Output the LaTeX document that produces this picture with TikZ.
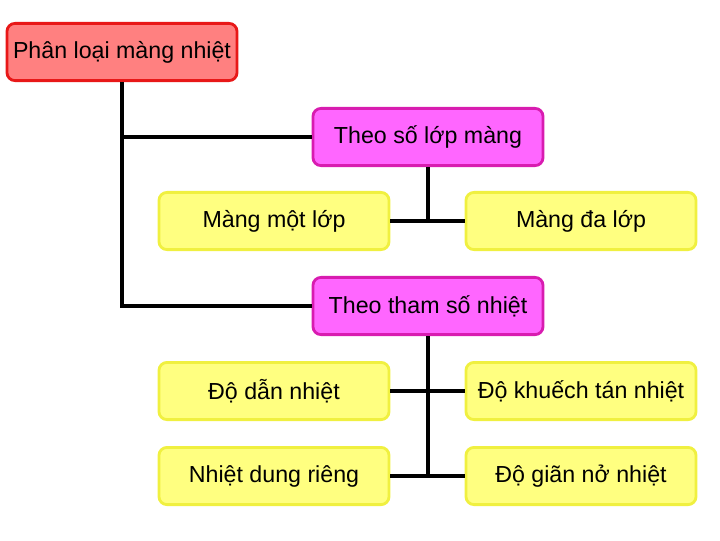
\documentclass[tikz,border=0pt]{standalone}
\usepackage{fontspec}
\setmainfont{Liberation Sans}
\definecolor{rootfill}{HTML}{FF8080}
\definecolor{rootline}{HTML}{E81818}
\definecolor{pinkfill}{HTML}{FF66FF}
\definecolor{pinkline}{HTML}{D81CB0}
\definecolor{yellowfill}{HTML}{FFFF80}
\definecolor{yellowline}{HTML}{F0F040}
\tikzset{
  box/.style={rectangle, rounded corners=0.2cm, line width=0.07cm, minimum width=5.75cm, minimum height=1.43cm, inner sep=0pt, font=\fontsize{16.5}{19}\selectfont},
  rootbox/.style={box, draw=rootline, fill=rootfill},
  groupbox/.style={box, draw=pinkline, fill=pinkfill},
  leafbox/.style={box, draw=yellowline, fill=yellowfill},
  link/.style={line width=0.1cm}
}
\begin{document}
\begin{tikzpicture}[x=0.025cm, y=-0.025cm]
    \useasboundingbox (0,0) rectangle (720,540);

    \node [rootbox] (root) at (122,52) {Phân loại màng nhiệt};

    \node [groupbox] (tsl) at (428,137) {Theo số lớp màng};
    \node [leafbox] (mml) at (274,221) {Màng một lớp};
    \node [leafbox] (mdl) at (581,221) {Màng đa lớp};

    \node [groupbox] (tts) at (428,306) {Theo tham số nhiệt};
    \node [leafbox] (ddn) at (274,391) {Độ dẫn nhiệt};
    \node [leafbox] (dkt) at (581,391) {Độ khuếch tán nhiệt};
    \node [leafbox] (ndr) at (274,476) {Nhiệt dung riêng};
    \node [leafbox] (dgn) at (581,476) {Độ giãn nở nhiệt};

    \draw [link] (root.south) |- (tsl.west); \draw [link] (root.south) |- (tts.west);
    \draw [link] (tsl.south) -- (tsl.south |- mml.east); \draw [link] (mml.east) -- (mdl.west);
    \draw [link] (tts.south) -- (tts.south |- ndr.east);
    \draw [link] (ddn.east) -- (dkt.west); \draw [link] (ndr.east) -- (dgn.west);
\end{tikzpicture}
\end{document}
